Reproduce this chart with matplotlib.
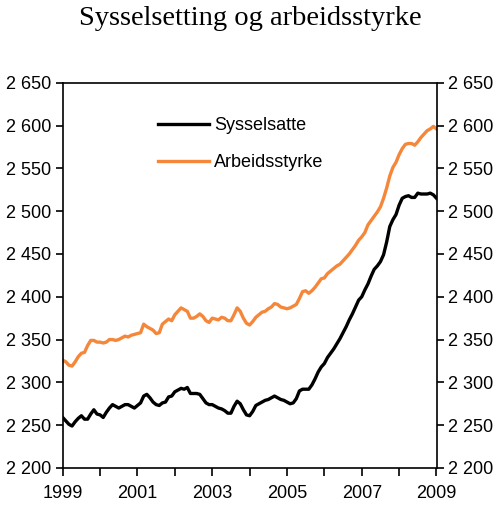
import numpy as np
import matplotlib
matplotlib.use("Agg")
import matplotlib.pyplot as plt
from matplotlib.ticker import FixedLocator, FuncFormatter

# Monthly observations, Jan 1999 .. Jan 2009 (thousand persons)
start_year = 1999
sysselsatte = [
    2259, 2255, 2251, 2249, 2254, 2258, 2261, 2257, 2257, 2263, 2268, 2263,
    2262, 2259, 2265, 2270, 2274, 2272, 2270, 2272, 2274, 2274, 2272, 2270,
    2273, 2276, 2284, 2286, 2282, 2277, 2274, 2273, 2276, 2277, 2283, 2284,
    2289, 2291, 2293, 2292, 2294, 2287, 2287, 2287, 2286, 2281, 2276, 2274,
    2274, 2272, 2270, 2269, 2267, 2264, 2264, 2272, 2278, 2275, 2268, 2262,
    2261, 2266, 2273, 2275, 2277, 2279, 2280, 2282, 2284, 2282, 2280, 2279,
    2277, 2275, 2276, 2281, 2290, 2292, 2292, 2292, 2297, 2304, 2312, 2318,
    2322, 2329, 2334, 2339, 2345, 2351, 2358, 2365, 2373, 2380, 2388, 2396,
    2400, 2408, 2415, 2424, 2432, 2436, 2441, 2449, 2464, 2482, 2490, 2496,
    2507, 2515, 2517, 2518, 2516, 2516, 2521, 2520, 2520, 2520, 2521, 2519,
    2515,
]
arbeidsstyrke = [
    2326, 2324, 2320, 2319, 2324, 2330, 2334, 2335, 2343, 2349, 2349, 2347,
    2347, 2346, 2347, 2350, 2350, 2349, 2350, 2352, 2354, 2353, 2355, 2356,
    2357, 2358, 2368, 2365, 2363, 2361, 2357, 2358, 2368, 2371, 2374, 2372,
    2379, 2383, 2387, 2385, 2383, 2375, 2375, 2377, 2380, 2377, 2372, 2370,
    2375, 2374, 2373, 2376, 2375, 2372, 2372, 2379, 2387, 2383, 2375, 2369,
    2367, 2371, 2376, 2379, 2382, 2383, 2386, 2388, 2392, 2391, 2388, 2387,
    2386, 2387, 2389, 2391, 2398, 2406, 2407, 2404, 2407, 2411, 2416, 2421,
    2422, 2427, 2430, 2433, 2436, 2438, 2442, 2446, 2450, 2455, 2460, 2466,
    2470, 2475, 2484, 2489, 2494, 2499, 2505, 2515, 2527, 2541, 2551, 2557,
    2566, 2573, 2578, 2579, 2579, 2577, 2581, 2586, 2590, 2594, 2596, 2599,
    2596,
]
labels = ["Sysselsatte", "Arbeidsstyrke"]
title = "Sysselsetting og arbeidsstyrke"
y_ticks = [2200, 2250, 2300, 2350, 2400, 2450, 2500, 2550, 2600, 2650]
x_major = [1999, 2001, 2003, 2005, 2007, 2009]
x_minor = list(range(1999, 2010))

t = start_year + np.arange(len(sysselsatte)) / 12.0

plt.rcParams['font.family'] = ['Liberation Sans', 'DejaVu Sans']

fig = plt.figure(figsize=(5.0, 5.09), dpi=100)
ax = fig.add_axes([0.1254, 0.0806, 0.7476, 0.7569])

ax.plot(t, sysselsatte, color='black', lw=2.4, label=labels[0], solid_joinstyle='round')
ax.plot(t, arbeidsstyrke, color='#F5873A', lw=2.4, label=labels[1], solid_joinstyle='round')

ax.set_xlim(1999, 2009)
ax.set_ylim(2200, 2650)
ax.yaxis.set_major_locator(FixedLocator(y_ticks))
ax.yaxis.set_major_formatter(FuncFormatter(lambda v, p: f"{int(v)//1000} {int(v)%1000:03d}"))
ax.xaxis.set_major_locator(FixedLocator(x_major))
ax.xaxis.set_minor_locator(FixedLocator(x_minor))
ax.xaxis.set_major_formatter(FuncFormatter(lambda v, p: f"{int(round(v))}"))

ax.tick_params(axis='y', which='both', direction='out', length=5, width=1.2,
               labelsize=13, left=True, right=True, labelleft=True, labelright=True, pad=3)
ax.tick_params(axis='x', which='both', direction='out', length=6, width=1.2,
               labelsize=13, pad=6)
for s in ax.spines.values():
    s.set_linewidth(1.2)

leg = ax.legend(loc='upper left', bbox_to_anchor=(0.255, 0.91), frameon=False,
                fontsize=13, handlelength=2.8, handletextpad=0.3, labelspacing=1.08,
                borderpad=0, borderaxespad=0)

fig.text(0.5, 0.963, title, ha='center', va='center', fontsize=20.5,
         family=['Liberation Serif', 'DejaVu Serif'])

fig.savefig("out.png", dpi=100)
